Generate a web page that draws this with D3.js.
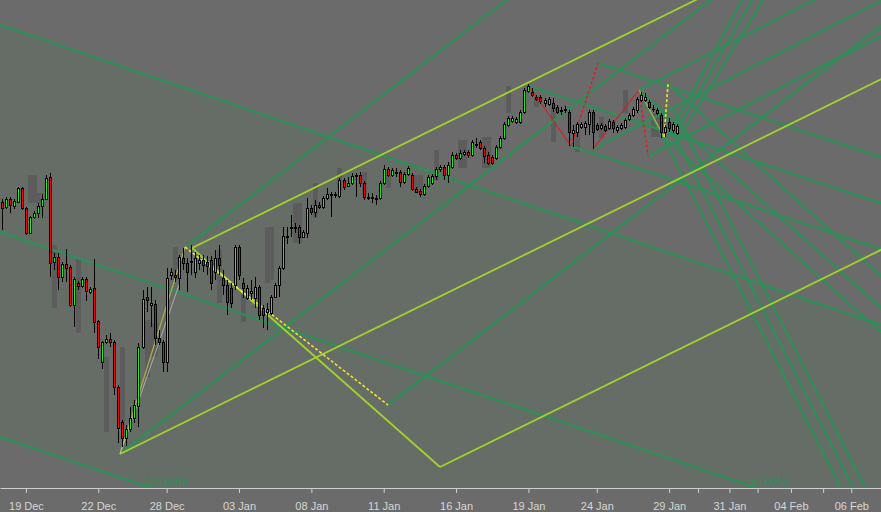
<!DOCTYPE html>
<html><head><meta charset="utf-8">
<script src="https://cdn.jsdelivr.net/npm/d3@7"></script>
<style>html,body{margin:0;padding:0;background:#6b6b6b;overflow:hidden}</style>
</head><body><svg id="c" width="881" height="512"></svg>
<script>
// ---- candle data (bar index = position in arrays) ----
const open = [798,793,801,794,798,812,792,767,783,787,
794,801,823,738,743,723,736,733,695,717,
714,721,708,712,679,638,658,661,658,613,
578,562,571,582,594,653,703,695,696,662,
658,638,725,725,722,742,737,738,728,737,
740,738,740,728,742,722,715,712,715,753,
717,702,707,702,713,692,688,687,703,715,
732,763,772,772,773,763,767,792,788,795,
793,802,805,805,804,820,814,817,824,825,
817,802,803,801,802,817,831,825,827,828,
818,826,825,811,809,806,814,817,824,831,
833,825,833,845,842,846,848,845,855,858,
852,845,843,842,853,862,875,879,878,878,
888,909,908,903,903,897,896,897,893,889,
890,888,867,868,873,873,876,888,875,872,
874,872,878,870,872,873,881,885,890,900,
900,898,891.5,890,885,868,878,870,867];
const high = [801,803,803,801,813,813,793,784,789,797,
806,825,827,747,747,738,751,735,723,719,
723,723,713,741,680,659,665,667,660,615,
580,575,593,600,657,710,713,713,700,670,
660,732,732,730,745,752,742,755,748,745,
745,744,744,750,755,730,720,717,755,755,
722,715,720,723,715,695,697,705,717,734,
773,773,785,777,775,770,802,795,800,798,
804,812,808,808,822,822,823,827,827,828,
819,807,807,805,819,835,833,832,832,830,
828,834,827,813,811,816,825,826,833,835,
835,838,848,847,850,850,850,860,862,860,
854,848,845,855,864,878,884,884,883,890,
912,916,912,905,905,902,903,902,895,893,
894,890,875,878,878,879,890,890,877,877,
876,881,880,875,877,882,887,893,903,908,
907,900,895,892,887,875,882,878,876];
const low = [770,791,787,791,797,790,765,766,781,782,
782,800,723,730,710,718,718,693,673,710,
712,699,706,667,641,631,656,653,605,557,
553,554,568,577,573,651,688,673,655,655,
628,628,720,718,710,730,708,725,722,730,
728,725,710,720,725,705,685,692,710,720,
702,700,700,692,680,672,670,685,702,703,
730,756,763,767,756,762,762,785,783,791,
791,800,783,802,802,810,813,815,803,813,
800,800,797,795,800,815,823,823,823,813,
816,824,809,807,803,804,812,815,820,828,
820,817,831,840,840,844,842,843,852,850,
837,835,835,840,851,860,873,877,876,876,
886,907,903,899,896,893,894,888,886,885,
887,854,853,863,871,865,865,851,869,870,
868,870,867,867,870,871,879,883,887,898,
898,891,888,885,862,863,868,867,865];
const close = [792,801,795,799,812,792,767,783,787,794,
801,822,737,743,723,736,732,695,721,714,
721,709,711,678,653,658,661,658,613,572,
562,571,582,595,653,701,700,697,662,658,
638,722,728,723,743,737,728,739,742,740,
735,734,717,742,735,715,698,697,753,725,
712,712,709,713,685,685,691,703,715,732,
764,764,773,773,763,768,792,788,795,793,
802,806,806,806,820,813,817,824,825,817,
803,803,802,802,817,831,825,830,828,818,
826,832,811,808,806,814,823,824,831,833,
825,835,845,842,847,848,845,858,856,852,
844,837,837,853,862,876,882,882,881,888,
910,914,905,901,899,900,901,892,888,890,
891,868,870,876,876,877,888,868,871,875,
870,879,872,873,875,880,885,891,901,905,
903,893,891,887,868,873,872,876,874];

// secondary (shadow) bars: index, high, low
const ghostIdx  = [7,8,9,13,19,26,30,36,37,38,43,54,60,66,67,73,74,78,84,90,96,103,104,108,114,115,120,121,126,133,137,143,149,155,162,163];
const ghostHigh = [825,825,807,755,742,643,653,680,677,677,753,750,710,773,773,797,797,817,832,828,825,825,825,850,860,860,863,863,914,903,893,877,883,910,887,887];
const ghostLow  = [797,797,797,692,667,568,573,623,643,643,720,697,678,717,720,757,757,782,810,805,812,807,807,820,832,832,832,832,887,893,858,848,862,887,863,863];

// time axis
const tickIdx = [6,24,41,59,77,95,113,131,148,166,173.2,181,188,196.3,204.3,211.3];
const tickLbl = ["19 Dec","22 Dec","28 Dec","03 Jan","08 Jan","11 Jan","16 Jan","19 Jan","24 Jan","29 Jan","","31 Jan","","04 Feb","","06 Feb"];

// drawing-tool anchor points [barIndex, price]
const pA=[29.4,546], pB=[45.57,753], pB2=[47.31,752], pD=[96.07,595], pC=[109.0,533], pW=[44.33,718];
const pP1=[131.14,914], pP2=[141.59,854], pP3=[148.31,937];
const pQ1=[147.06,851], pQ2=[158.51,910], pQ3=[160.75,844];
const pR2=[164.73,863], pR3=[165.72,916];
// channel lines (0% / 50% / 100%)
const chan0=[[-0.45,975],[218.7,675]], chan50=[[-0.45,768],[218.7,470]], chan100=[[-0.45,563],[218.7,265]];
// extra rays: [start, through]
const fan5 = [[pQ2,[168.51,873.8]],[pR2,[174.73,826.8]],[pR3,[175.72,879.8]]];
const steepDown = [[pQ2,[168.51,830.8]],[[164.1,890],[174.1,810.8]],[[167.1,890],[177.1,810.8]]];
const steepUp = [[[165.72,863],[184.13,1000]],[[166.97,863],[186.62,1000]],[[168.7,863],[189.35,1000]]];

const W=881,H=512,PB=488;
const x=d3.scaleLinear().domain([-0.45,218.7]).range([0,W]);
const y=d3.scaleLinear().domain([512,1000]).range([PB,0]);
const svg=d3.select('#c');
svg.append('rect').attr('width',W).attr('height',H).attr('fill','#6b6b6b');
svg.append('defs').append('clipPath').attr('id','clip').append('rect').attr('width',W).attr('height',PB);
const g=svg.append('g').attr('clip-path','url(#clip)');

const px=p=>[x(p[0]),y(p[1])];
function extend(a,b,both){const A=px(a),B=px(b);const dx=B[0]-A[0],dy=B[1]-A[1];const t=60;
  return [both?[A[0]-dx*t,A[1]-dy*t]:A,[A[0]+dx*t,A[1]+dy*t]];}
function seg(a,b){return [px(a),px(b)];}
function pitchfork(a,b,c){const m=[(b[0]+c[0])/2,(b[1]+c[1])/2];const di=m[0]-a[0],dp=m[1]-a[1];
  return [extend(a,m),extend(b,[b[0]+di,b[1]+dp]),extend(c,[c[0]+di,c[1]+dp])];}

// tinted channel area
const t0=extend(chan0[0],chan0[1],true), t1=extend(chan100[0],chan100[1],true);
g.append('path').attr('d',d3.line()([t0[0],t0[1],t1[1],t1[0]])+'Z').attr('fill','rgba(40,140,40,0.06)');

// shadow bars
g.selectAll('rect.gh').data(ghostIdx).join('rect').attr('class','gh')
 .attr('x',(d)=>Math.round(x(d))-2).attr('width',5)
 .attr('y',(d,i)=>Math.round(y(ghostHigh[i]))).attr('height',(d,i)=>Math.round(y(ghostLow[i]))-Math.round(y(ghostHigh[i])))
 .attr('fill','#5b5c5b');

const line=d3.line();
function draw(segs,color,w,dash,op){segs.forEach(s=>g.append('path').attr('d',line(s)).attr('fill','none')
  .attr('stroke',color).attr('stroke-width',w).attr('stroke-dasharray',dash||null).attr('opacity',op||1));}

const SG='#2e8f57', LIME='#a2d22e';
// channel
draw([chan0,chan50,chan100].map(c=>extend(c[0],c[1],true)),SG,2.3);
// pitchforks
draw(pitchfork(pA,pB,pD),SG,2.3);
draw(pitchfork(pP1,pP2,pP3),SG,2.3);
draw(pitchfork(pQ1,pQ2,pQ3),SG,2.3);
draw(fan5.map(r=>extend(r[0],r[1])),SG,2.3);
draw(steepDown.map(r=>extend(r[0],r[1])),SG,2.3);
draw(steepUp.map(r=>extend(r[0],r[1])),SG,2.3);
draw(pitchfork(pA,pB2,pC),LIME,1.8);
draw([seg(pB2,pC)],LIME,1.8);
// handles / zigzags
draw([seg(pA,pB)],'#b5ae45',1.2);
draw([seg(pA,pW)],'#c9c9c2',1,null,0.7);
draw([seg(pB,pD)],'#f2e526',1.6,'3,2');
draw([seg(pP1,pP2),seg(pQ1,pQ2)],'#e01b1b',1.1);
draw([seg(pP2,pP3),seg(pQ2,pQ3)],'#e01b1b',1.3,'3,2');
draw([seg(pQ2,pR2)],'#b5ae45',1.3);
draw([seg(pR2,pR3)],'#f2e526',1.6,'3,2');

// candles
const idx=d3.range(open.length);
const cg=g.append('g').attr('shape-rendering','crispEdges');
idx.forEach(i=>{
  const cx=Math.round(x(i));
  cg.append('rect').attr('x',cx).attr('width',1).attr('y',Math.round(y(high[i]))).attr('height',Math.max(1,Math.round(y(low[i]))-Math.round(y(high[i])))).attr('fill','#000');
  const top=Math.round(y(Math.max(open[i],close[i]))), bot=Math.round(y(Math.min(open[i],close[i])));
  cg.append('rect').attr('x',cx-1).attr('width',3).attr('y',top).attr('height',Math.max(1,bot-top+1)).attr('fill','#000');
  if(bot-top>=2) cg.append('rect').attr('x',cx).attr('width',1).attr('y',top+1).attr('height',bot-top-1)
     .attr('fill',close[i]>=open[i]?'#22ee22':'#ff0000');
});

// channel labels
function crossAt(c,price){const [a,b]=c;return a[0]+(price-a[1])*(b[0]-a[0])/(b[1]-a[1]);}
[[chan100,'100.00%'],[chan50,'50.00%']].forEach(([c,t])=>{
  svg.append('text').attr('x',x(crossAt(c,515))+2).attr('y',485).text(t)
   .attr('fill',SG).attr('font-family','Liberation Sans, Arial, sans-serif').attr('font-size',11);
});

// axis
const ax=svg.append('g').attr('transform',`translate(0,${PB})`)
 .call(d3.axisBottom(x).tickValues(tickIdx).tickFormat((d,i)=>tickLbl[i]).tickSize(5).tickSizeOuter(0).tickPadding(9));
ax.select('.domain').attr('stroke','#cfcfcf');
ax.selectAll('line').attr('stroke','#cfcfcf');
ax.selectAll('text').attr('fill','#d6d6d6').attr('font-family','Liberation Sans, Arial, sans-serif').attr('font-size',11);
</script></body></html>
